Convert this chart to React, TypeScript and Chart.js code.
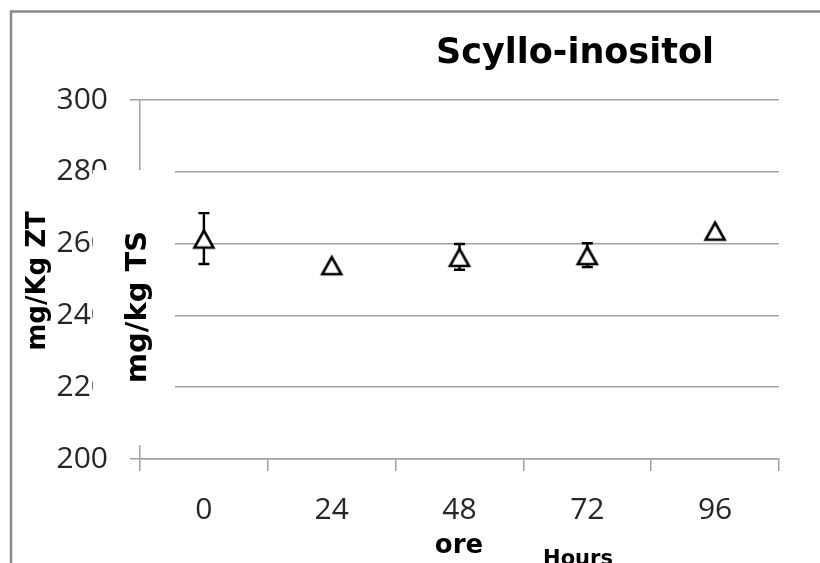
import React, { useEffect, useRef } from 'react';
import { Chart, registerables } from 'chart.js';

Chart.register(...registerables);

// ---- data ----
const hours = ['0', '24', '48', '72', '96'];
const scylloMean = [261.4, 254.0, 256.3, 256.8, 263.6];
const scylloErr = [7.1, 0, 3.6, 3.3, 0];
const yTicksMin = 200;
const yTicksMax = 300;
const yTicksStep = 20;
const chartTitle = 'Scyllo-inositol';
const yTitleOuter = 'mg/Kg ZT';
const yTitleInner = 'mg/kg TS';
const xTitleOld = 'ore';
const xTitleNew = 'Hours';

const GRID = '#a2a2a2';
const TICK_FONT = { family: '"Open Sans", "Liberation Sans", sans-serif', size: 30 };
const BOLD = '"DejaVu Sans", Verdana, sans-serif';

function makeTriangle(): HTMLCanvasElement {
  const c = document.createElement('canvas');
  c.width = 28;
  c.height = 28;
  const g = c.getContext('2d')!;
  g.beginPath();
  g.moveTo(14, 6);
  g.lineTo(23.5, 23);
  g.lineTo(4.5, 23);
  g.closePath();
  g.fillStyle = '#ffffff';
  g.fill();
  g.lineWidth = 2.6;
  g.strokeStyle = '#000000';
  g.stroke();
  return c;
}

const errorBars = {
  id: 'errorBars',
  beforeDatasetsDraw(chart: any) {
    const ctx = chart.ctx;
    const meta = chart.getDatasetMeta(0);
    const ys = chart.scales.y;
    ctx.save();
    ctx.strokeStyle = '#000';
    ctx.lineWidth = 2.4;
    meta.data.forEach((pt: any, i: number) => {
      if (!scylloErr[i]) return;
      const x = pt.x;
      const top = ys.getPixelForValue(scylloMean[i] + scylloErr[i]);
      const bot = ys.getPixelForValue(scylloMean[i] - scylloErr[i]);
      ctx.beginPath();
      ctx.moveTo(x, top);
      ctx.lineTo(x, bot);
      ctx.moveTo(x - 5.5, top);
      ctx.lineTo(x + 5.5, top);
      ctx.moveTo(x - 5.5, bot);
      ctx.lineTo(x + 5.5, bot);
      ctx.stroke();
    });
    ctx.restore();
  },
};

const decor = {
  id: 'decor',
  afterDraw(chart: any) {
    const ctx = chart.ctx;
    ctx.save();
    // outer frame (top + left)
    ctx.strokeStyle = '#8a8a8a';
    ctx.lineWidth = 2.5;
    ctx.beginPath();
    ctx.moveTo(11, 570);
    ctx.lineTo(11, 11.5);
    ctx.lineTo(830, 11.5);
    ctx.stroke();

    // white box of the overlaid axis title
    ctx.fillStyle = '#ffffff';
    ctx.fillRect(93, 170, 82, 275);

    ctx.fillStyle = '#000';
    ctx.textAlign = 'center';
    ctx.textBaseline = 'middle';

    ctx.save();
    ctx.translate(38, 281);
    ctx.rotate(-Math.PI / 2);
    ctx.font = `bold 26px ${BOLD}`;
    ctx.fillText(yTitleOuter, 0, 0);
    ctx.restore();

    ctx.save();
    ctx.translate(138, 307);
    ctx.rotate(-Math.PI / 2);
    ctx.font = `bold 29px ${BOLD}`;
    ctx.fillText(yTitleInner, 0, 0);
    ctx.restore();

    ctx.textBaseline = 'alphabetic';
    ctx.font = `bold 35px ${BOLD}`;
    ctx.fillText(chartTitle, 575, 63);

    ctx.font = `bold 26px ${BOLD}`;
    ctx.fillText(xTitleOld, 459, 553);

    ctx.font = `bold 21px ${BOLD}`;
    ctx.fillText(xTitleNew, 578, 565);
    ctx.restore();
  },
};

export default function App() {
  const ref = useRef<HTMLCanvasElement | null>(null);
  useEffect(() => {
    if (!ref.current) return;
    const tri = makeTriangle();
    const chart = new Chart(ref.current, {
      type: 'line',
      data: {
        labels: hours,
        datasets: [
          {
            data: scylloMean,
            showLine: false,
            pointStyle: tri as any,
            pointRadius: 11,
            pointHoverRadius: 11,
            borderColor: '#000',
            backgroundColor: '#fff',
          },
        ],
      },
      options: {
        responsive: false,
        animation: false,
        devicePixelRatio: 1,
        events: [],
        layout: { padding: { top: 100, right: 41, left: 0, bottom: 0 } },
        plugins: {
          legend: { display: false },
          tooltip: { enabled: false },
          title: { display: false },
        },
        scales: {
          x: {
            type: 'category',
            offset: true,
            grid: {
              offset: true,
              drawOnChartArea: false,
              tickLength: 12,
              color: GRID,
              lineWidth: 1.5,
            },
            border: { color: GRID, width: 1.5 },
            ticks: { font: TICK_FONT, color: '#262626', padding: 21, maxRotation: 0 },
            afterFit(s: any) {
              s.height = 104;
            },
          },
          y: {
            min: yTicksMin,
            max: yTicksMax,
            ticks: { stepSize: yTicksStep, font: TICK_FONT, color: '#262626', padding: 22 },
            grid: { color: GRID, lineWidth: 1.5, tickLength: 10 },
            border: { color: GRID, width: 1.5 },
            afterFit(s: any) {
              s.width = 140;
            },
          },
        },
      },
      plugins: [errorBars, decor],
    });
    return () => chart.destroy();
  }, []);
  return (
    <div style={{ position: 'fixed', left: 0, top: 0, width: 820, height: 563, background: '#fff' }}>
      <canvas ref={ref} width={820} height={563} />
    </div>
  );
}
